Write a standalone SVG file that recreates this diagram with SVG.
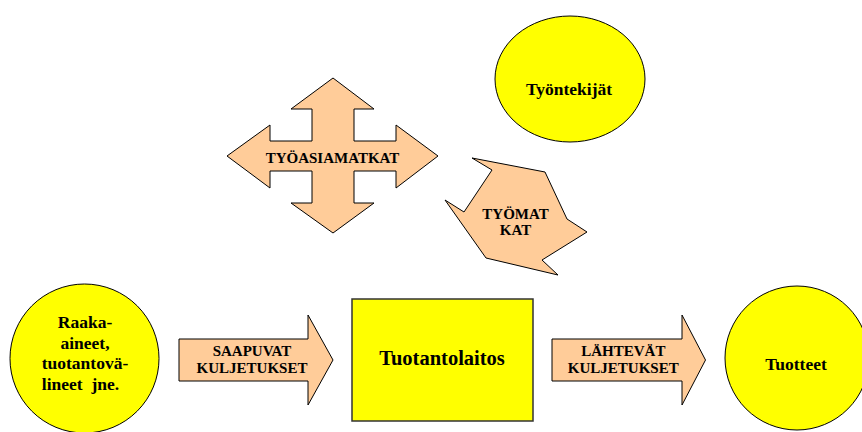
<svg xmlns="http://www.w3.org/2000/svg" width="862" height="432" viewBox="0 0 862 432">
<style>
.node{fill:#FFFF00;stroke:#000;stroke-width:1}
.arrow{fill:#FFCC99;stroke:#000;stroke-width:1;stroke-linejoin:miter}
.box{fill:#FFFF00;stroke:#333;stroke-width:1.5}
text{font-family:"Liberation Serif","Times New Roman",serif;font-weight:bold;fill:#000;text-anchor:middle}
.s{font-size:15px}
.m{font-size:17.5px}
.l{font-size:20.5px}
</style>
<rect width="862" height="432" fill="#fff"/>
<g id="tyontekijat">
<ellipse class="node" cx="570" cy="79" rx="75" ry="63"/>
<text class="m" x="569" y="95">Työntekijät</text>
</g>
<g id="tyoasiamatkat">
<polygon class="arrow" points="333,78 374,109 354,109 354,141 396,141 396,125 438,156 396,188 396,171 354,171 354,203 374,203 333,233 291,203 312,203 312,171 270,171 270,188 227,156 270,125 270,141 312,141 312,109 291,109"/>
<text class="s" x="332.5" y="162.5">TYÖASIAMATKAT</text>
</g>
<g id="tyomatkat">
<polygon class="arrow" points="472,158 545,172 567,219 587,232 542,260 558,275 486,258 445,200 464,212 492,170"/>
<text class="s" x="515.5" y="218.5">TYÖMAT</text>
<text class="s" x="515.5" y="235">KAT</text>
</g>
<g id="raaka-aineet">
<circle class="node" cx="84.5" cy="358.5" r="74.5"/>
<text class="m" x="85" y="328">Raaka-</text>
<text class="m" x="85" y="348.5">aineet,</text>
<text class="m" x="85" y="369">tuotantovä-</text>
<text class="m" x="80.5" y="389.5" xml:space="preserve">lineet  jne.</text>
</g>
<g id="tuotantolaitos">
<rect class="box" x="352" y="299" width="181" height="122"/>
<text class="l" x="442" y="365">Tuotantolaitos</text>
</g>
<g id="tuotteet">
<circle class="node" cx="797" cy="358" r="72"/>
<text class="m" x="796" y="370">Tuotteet</text>
</g>
<g id="connectors">
<g id="saapuvat">
<polygon class="arrow" points="179,339 308,339 308,315 333,360 308,405 308,381 179,381"/>
<text class="s" x="252" y="356">SAAPUVAT</text>
<text class="s" x="252" y="372.7">KULJETUKSET</text>
</g>
<g id="lahtevat">
<polygon class="arrow" points="552,339 682,339 682,315 705.5,360 682,405 682,381 552,381"/>
<text class="s" x="623.3" y="356">LÄHTEVÄT</text>
<text class="s" x="623.3" y="372.7">KULJETUKSET</text>
</g>
</g>
</svg>
